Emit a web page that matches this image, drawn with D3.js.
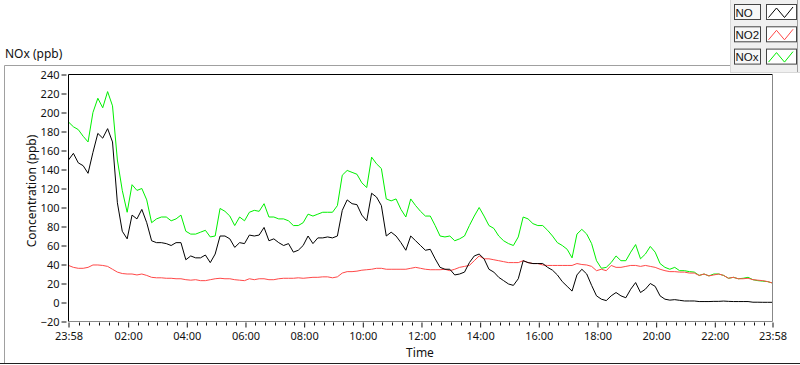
<!DOCTYPE html>
<html>
<head>
<meta charset="utf-8">
<script src="https://cdn.jsdelivr.net/npm/d3@7"></script>
<style>
  body { margin: 0; background: #fff; }
  svg text { font-family: "Noto Sans", "DejaVu Sans", sans-serif; fill: #111; }
</style>
</head>
<body>
<svg id="chart" width="800" height="365"></svg>
<script>

// Start / end of the record and sampling step (minutes).
var start_time = new Date(2020, 0, 1, 23, 58);
var end_time = new Date(2020, 0, 2, 23, 58);
var step_minutes = 10;

// NO concentration (ppb), one value every 10 minutes.
var no_values = [150, 157, 147, 144, 136, 158, 178, 173, 183, 169,
                 105, 75, 67, 92, 88, 98, 84, 65, 63, 63,
                 62, 60, 63, 63, 45, 49, 47, 47, 50, 42,
                 51, 70, 70, 67, 58, 63, 62, 71, 70, 71,
                 79, 65, 67, 63, 60, 62, 53, 55, 60, 70,
                 62, 68, 68, 69, 68, 70, 97, 108, 104, 103,
                 92, 86, 115, 111, 102, 70, 74, 70, 63, 55,
                 70, 65, 60, 55, 56, 46, 37, 35, 35, 29,
                 30, 32, 42, 49, 51, 46, 35, 32, 26.5, 23,
                 19.5, 18, 25, 44, 42, 41, 41, 41, 37, 34,
                 29, 22, 17, 12, 29, 35, 30, 18, 7, 3.5,
                 2, 7, 10.5, 7, 5, 14, 21, 10.5, 14, 20,
                 17, 7, 3.5, 2.5, 3, 2.3, 1.6, 1.6, 1.6, 1,
                 1, 1, 1.2, 1.2, 1.5, 1.2, 1, 1, 1, 1,
                 0.3, 0.3, 0.2, 0.2, 0.2];

// NO2 concentration (ppb).
var no2_values = [39, 37, 36, 36, 37, 39.5, 39.5, 39, 38, 35,
                  32, 30.5, 30, 30, 29, 30, 28.5, 26.5, 26, 26,
                  25.5, 25.5, 25, 25, 24, 23.5, 24, 23, 23, 24,
                  25, 25.5, 25, 25, 24, 23.5, 23, 25, 24, 25,
                  25, 24, 24, 25, 25.5, 25.5, 25.5, 26, 25.5, 26,
                  26.5, 26.5, 27, 27, 26, 27, 31, 32.5, 32.5, 33,
                  34, 34.5, 35, 36, 36, 35, 35, 35, 35, 35,
                  36, 37, 36, 35, 34.5, 34.5, 34.5, 35, 33.5, 35,
                  37, 38, 39, 44, 49, 46, 46, 45, 44, 43,
                  42, 42, 42, 44, 42, 41, 41, 39.5, 39, 39,
                  39, 39, 39, 39, 41, 40, 39.5, 38, 33.5, 35,
                  33.5, 39, 37, 37, 38, 39, 39, 38, 39, 38,
                  37, 35, 33.5, 32.5, 32.5, 32, 32, 31, 31, 28.5,
                  30, 28, 29, 30, 28.5, 25.5, 26.5, 25, 25, 25.5,
                  24, 23.5, 23, 22, 20.5];

// NOx concentration (ppb).
var nox_values = [190, 185, 182, 175, 169, 200, 215, 205, 222, 207,
                  150, 118, 95, 124, 118, 120, 108, 84, 88, 90,
                  90, 86, 88, 92, 75, 72, 72, 74, 76, 69,
                  70, 99, 96, 91, 81, 90, 86, 95, 97, 96,
                  104, 90, 90, 88, 88, 86, 81, 81, 84, 93,
                  91, 93, 95, 95, 95, 102, 134, 139, 137, 135,
                  126, 121, 153, 146, 141, 109, 107, 109, 98, 90,
                  109, 102, 96, 91, 91, 81, 70, 69, 70, 65,
                  67, 70, 81, 91, 100, 91, 81, 78, 70, 65,
                  62, 60, 69, 90, 88, 83, 81, 81, 76, 70,
                  63, 60, 56, 47, 72, 77, 72, 62, 44, 36,
                  37, 42, 49, 44, 44, 53, 61, 46, 51, 59,
                  53, 41, 37, 35, 37, 33.5, 33.5, 32.5, 32, 28.5,
                  30, 28, 30, 30, 28.5, 25.5, 26.5, 25, 25.5, 26.5,
                  24, 23, 22.5, 22, 20.5];

// Axis ticks.
var y_ticks = [-20, 0, 20, 40, 60, 80, 100, 120, 140, 160, 180, 200, 220, 240];
var x_major_hours = [2, 4, 6, 8, 10, 12, 14, 16, 18, 20, 22];

// Legend entries (name, colour).
var series_names = ["NO", "NO2", "NOx"];
var series_colors = ["#000000", "#ff4848", "#00f000"];


var svg = d3.select("#chart");

var plot = {left: 68.5, right: 772.5, top: 74.5, bottom: 321.5};

var x = d3.scaleTime()
    .domain([start_time, end_time])
    .range([plot.left, plot.right]);

var y = d3.scaleLinear()
    .domain([-20, 240])
    .range([plot.bottom, plot.top]);

function time_at(i) {
  return d3.timeMinute.offset(start_time, i * step_minutes);
}

// outer frame of the graph control.
svg.append("path")
    .attr("d", "M4.5,364 V65.5 H730.5")
    .attr("fill", "none")
    .attr("stroke", "#a0a0a0");
svg.append("line")
    .attr("x1", 0).attr("x2", 800)
    .attr("y1", 363.5).attr("y2", 363.5)
    .attr("stroke", "#202020");

svg.append("text")
    .attr("x", 5)
    .attr("y", 58)
    .style("font-size", "12px")
    .text("NOx (ppb)");

// plot area.
svg.append("rect")
    .attr("x", plot.left).attr("y", plot.top)
    .attr("width", plot.right - plot.left)
    .attr("height", plot.bottom - plot.top)
    .attr("fill", "#fff");

// y axis.
var y_axis = d3.axisLeft(y)
    .tickValues(y_ticks)
    .tickSize(5)
    .tickPadding(2);

var y_g = svg.append("g")
    .attr("transform", "translate(66.5,0)")
    .call(y_axis);
y_g.select(".domain").remove();
y_g.selectAll("text").style("font-size", "11px").attr("fill", "#111");
y_g.selectAll("line").attr("stroke", "#111");

// x axis: majors every 2 hours plus both ends, minors every 20 minutes.
var x_majors = [start_time].concat(x_major_hours.map(function(h) {
  return new Date(2020, 0, 2, h, 0);
})).concat([end_time]);

var x_minors = d3.timeMinute.every(20).range(start_time, end_time)
    .filter(function(d) {
      return !(d.getMinutes() == 0 && d.getHours() % 2 == 0);
    });

svg.append("g")
    .attr("transform", "translate(0,322.5)")
    .selectAll("line")
    .data(x_minors)
    .enter().append("line")
    .attr("x1", function(d) { return Math.round(x(d)) + 0.5; })
    .attr("x2", function(d) { return Math.round(x(d)) + 0.5; })
    .attr("y1", 0).attr("y2", 3)
    .attr("stroke", "#111");

var x_axis = d3.axisBottom(x)
    .tickValues(x_majors)
    .tickFormat(d3.timeFormat("%H:%M"))
    .tickSize(5)
    .tickPadding(5);

var x_g = svg.append("g")
    .attr("transform", "translate(0,322.5)")
    .call(x_axis);
x_g.select(".domain").remove();
x_g.selectAll("text").style("font-size", "11px").attr("fill", "#111");
x_g.selectAll("line").attr("stroke", "#111");

// axis titles.
svg.append("text")
    .attr("transform", "translate(36,191) rotate(-90)")
    .attr("text-anchor", "middle")
    .style("font-size", "12px")
    .text("Concentration (ppb)");

svg.append("text")
    .attr("x", 420)
    .attr("y", 357)
    .attr("text-anchor", "middle")
    .style("font-size", "12px")
    .text("Time");

// series lines, drawn NOx, NO2 then NO.
var line = d3.line()
    .x(function(d, i) { return x(time_at(i)); })
    .y(function(d) { return y(d); });

var series = [nox_values, no2_values, no_values];
var colors = [series_colors[2], series_colors[1], series_colors[0]];

svg.append("g")
    .selectAll("path")
    .data(series)
    .enter().append("path")
    .attr("d", line)
    .attr("fill", "none")
    .attr("stroke", function(d, i) { return colors[i]; })
    .attr("stroke-width", 1)
    .attr("stroke-linejoin", "round");

// plot border: dark top/left, grey bottom/right.
svg.append("path")
    .attr("d", "M" + plot.left + "," + plot.bottom + " V" + plot.top + " H" + plot.right)
    .attr("fill", "none")
    .attr("stroke", "#000");
svg.append("path")
    .attr("d", "M" + plot.right + "," + plot.top + " V" + plot.bottom + " H" + plot.left)
    .attr("fill", "none")
    .attr("stroke", "#888");

// legend panel.
var legend = svg.append("g");

legend.append("rect")
    .attr("x", 730.5).attr("y", -1)
    .attr("width", 70).attr("height", 73.5)
    .attr("fill", "#f0f0f0")
    .attr("stroke", "#d8d8d8");
legend.append("line")
    .attr("x1", 797.5).attr("x2", 797.5)
    .attr("y1", 0).attr("y2", 72)
    .attr("stroke", "#a0a0a0");

var rows = legend.selectAll(".legend_row")
    .data(series_names)
    .enter().append("g")
    .attr("class", "legend_row")
    .attr("transform", function(d, i) { return "translate(0," + (4.5 + i * 22.3) + ")"; });

rows.append("rect")
    .attr("x", 734.5).attr("y", 0)
    .attr("width", 26).attr("height", 15)
    .attr("fill", "#f7f7f7")
    .attr("stroke", "#444");

rows.append("text")
    .attr("x", 735.5)
    .attr("y", 12)
    .style("font-family", "'Liberation Sans', Arial, sans-serif")
    .style("font-size", "11.5px")
    .attr("fill", "#111")
    .text(function(d) { return d; });

rows.append("rect")
    .attr("x", 766.5).attr("y", 0)
    .attr("width", 30).attr("height", 15)
    .attr("fill", "#fff")
    .attr("stroke", "#444");

rows.append("path")
    .attr("d", "M768.5,13 L776.5,3.5 L784.5,13 L793,2.5")
    .attr("fill", "none")
    .attr("stroke", function(d, i) { return series_colors[i]; });

</script>
</body>
</html>
